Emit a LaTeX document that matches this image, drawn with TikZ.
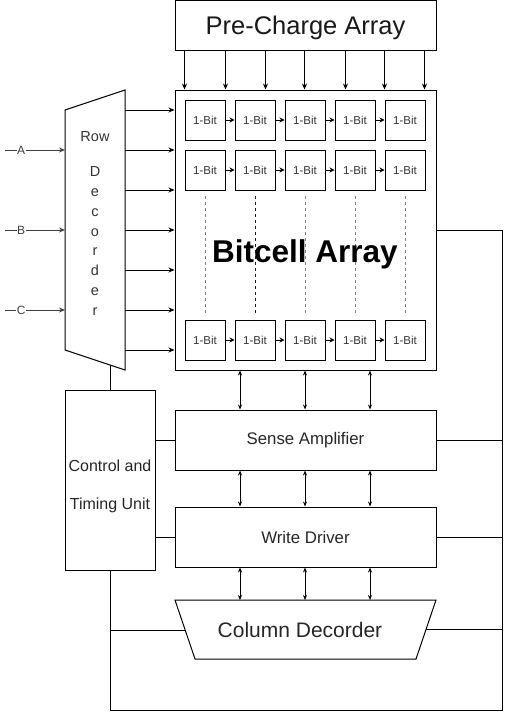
\documentclass[tikz,border=0pt]{standalone}
\usepackage{fontspec}
\setmainfont{Liberation Sans}
\usetikzlibrary{arrows.meta}

\tikzset{
  blk/.style={draw, line width=1pt, minimum width=261pt, minimum height=60pt, inner sep=0pt},
  cell/.style={draw, line width=1pt, minimum width=40pt, minimum height=40pt, inner sep=0pt, font=\fontsize{11.5}{13}\selectfont, text=black!80},
  inlbl/.style={fill=white, inner sep=0.5pt, font=\fontsize{12}{14}\selectfont, text=black!75},
}

\begin{document}
\begin{tikzpicture}[x=1pt, y=-1pt, line width=1pt, >={Stealth[length=6pt,width=5pt]}]
\useasboundingbox (0,0) rectangle (507,712);

% top and array
\node[blk, minimum height=50pt, text depth=0pt, font=\fontsize{25.5}{30}\selectfont, text=black!90] (pc) at (305.5,25.5) {Pre-Charge Array};
\node[blk, minimum height=280pt] (ba) at (305.5,230) {};

\node[cell] (c11) at (205,120) {1-Bit};
\node[cell] (c12) at (255,120) {1-Bit};
\node[cell] (c13) at (305,120) {1-Bit};
\node[cell] (c14) at (355,120) {1-Bit};
\node[cell] (c15) at (405,120) {1-Bit};
\node[cell] (c21) at (205,170) {1-Bit};
\node[cell] (c22) at (255,170) {1-Bit};
\node[cell] (c23) at (305,170) {1-Bit};
\node[cell] (c24) at (355,170) {1-Bit};
\node[cell] (c25) at (405,170) {1-Bit};
\node[cell] (c31) at (205,340) {1-Bit};
\node[cell] (c32) at (255,340) {1-Bit};
\node[cell] (c33) at (305,340) {1-Bit};
\node[cell] (c34) at (355,340) {1-Bit};
\node[cell] (c35) at (405,340) {1-Bit};

\begin{scope}[->, >={Stealth[length=5pt,width=5pt]}]
\draw (c11) -- (c12);
\draw (c12) -- (c13);
\draw (c13) -- (c14);
\draw (c14) -- (c15);
\draw (c21) -- (c22);
\draw (c22) -- (c23);
\draw (c23) -- (c24);
\draw (c24) -- (c25);
\draw (c31) -- (c32);
\draw (c32) -- (c33);
\draw (c33) -- (c34);
\draw (c34) -- (c35);
\end{scope}

\begin{scope}[dash pattern=on 3pt off 3pt, black!50]
\draw ([yshift=-5pt]c21.south) -- ([yshift=7pt]c31.north);
\draw[black!90] ([yshift=-5pt]c22.south) -- ([yshift=7pt]c32.north);
\draw ([yshift=-5pt]c23.south) -- ([yshift=7pt]c33.north);
\draw ([yshift=-5pt]c24.south) -- ([yshift=7pt]c34.north);
\draw ([yshift=-5pt]c25.south) -- ([yshift=7pt]c35.north);
\end{scope}

\node[text depth=0pt, font=\bfseries\fontsize{31.5}{36}\selectfont] (bt) at (305,251) {Bitcell Array};

\begin{scope}[->, line width=0.8pt]
\draw ([xshift=10pt]pc.south west) -- ([xshift=10pt]ba.north west);
\draw ([xshift=51pt]pc.south west) -- ([xshift=51pt]ba.north west);
\draw ([xshift=91pt]pc.south west) -- ([xshift=91pt]ba.north west);
\draw ([xshift=130pt]pc.south west) -- ([xshift=130pt]ba.north west);
\draw ([xshift=171pt]pc.south west) -- ([xshift=171pt]ba.north west);
\draw ([xshift=210pt]pc.south west) -- ([xshift=210pt]ba.north west);
\draw ([xshift=250pt]pc.south west) -- ([xshift=250pt]ba.north west);
\end{scope}

% row decoder
\coordinate (rd1) at (65,110);
\coordinate (rd2) at (125,90);
\coordinate (rd3) at (125,370);
\coordinate (rd4) at (65,350);
\draw (rd1) -- (rd2) -- (rd3) -- (rd4) -- cycle;
\node[font=\fontsize{14.5}{17}\selectfont, text=black!80] (rdt) at (95,137) {Row};
\node[align=center, inner sep=0pt, font=\fontsize{14.5}{19.9}\selectfont, text=black!80] (rdl) at (95,241) {D\\e\\c\\o\\r\\d\\e\\r};

\coordinate (o1) at (125,110);
\coordinate (o2) at (125,150);
\coordinate (o3) at (125,190);
\coordinate (o4) at (125,230);
\coordinate (o5) at (125,270);
\coordinate (o6) at (125,310);
\coordinate (o7) at (125,350);
\begin{scope}[->]
\draw (o1) -- (o1 -| ba.west);
\draw (o2) -- (o2 -| ba.west);
\draw (o3) -- (o3 -| ba.west);
\draw (o4) -- (o4 -| ba.west);
\draw (o5) -- (o5 -| ba.west);
\draw (o6) -- (o6 -| ba.west);
\draw (o7) -- (o7 -| ba.west);
\end{scope}

\coordinate (ia) at (5,150);
\coordinate (ib) at (5,230);
\coordinate (ic) at (5,310);
\begin{scope}[->, black!75]
\draw (ia) -- (ia -| rd1) node[inlbl, pos=0.27] (la) {A};
\draw (ib) -- (ib -| rd1) node[inlbl, pos=0.27] (lb) {B};
\draw (ic) -- (ic -| rd1) node[inlbl, pos=0.27] (lc) {C};
\end{scope}

% lower blocks
\node[draw, minimum width=90pt, minimum height=180pt] (ctl) at (110,480) {};
\node[align=center, font=\fontsize{16}{38}\selectfont, text=black!85] (ctlt) at (110,486) {Control and\\Timing Unit};
\node[blk, font=\fontsize{16.8}{20}\selectfont, text=black!85] (sa) at (305.5,440) {Sense Amplifier};
\node[blk, font=\fontsize{16.8}{20}\selectfont, text=black!85] (wd) at (305.5,537) {Write Driver};

\coordinate (cd1) at (175,600);
\coordinate (cd2) at (436,600);
\coordinate (cd3) at (416,659);
\coordinate (cd4) at (195,659);
\draw (cd1) -- (cd2) -- (cd3) -- (cd4) -- cycle;
\node[font=\fontsize{21}{25}\selectfont, text=black!85] (cdt) at (300,630) {Column Decorder};
\coordinate (cdl) at (185,630);
\coordinate (cdr) at (426,629);

\coordinate (rdb) at (110,365);
\draw (rdb) -- (rdb |- ctl.north); %rd-ctl

\begin{scope}[<->, >={Stealth[length=5pt,width=4pt]}]
\draw ([xshift=-65.5pt]ba.south) -- ([xshift=-65.5pt]sa.north);
\draw ([xshift=-0.5pt]ba.south) -- ([xshift=-0.5pt]sa.north);
\draw ([xshift=64.5pt]ba.south) -- ([xshift=64.5pt]sa.north);
\draw ([xshift=-65.5pt]sa.south) -- ([xshift=-65.5pt]wd.north);
\draw ([xshift=-0.5pt]sa.south) -- ([xshift=-0.5pt]wd.north);
\draw ([xshift=64.5pt]sa.south) -- ([xshift=64.5pt]wd.north);
\draw ([xshift=-65.5pt]wd.south) -- ([xshift=-65.5pt]cd1 -| ba.south);
\draw ([xshift=-0.5pt]wd.south) -- ([xshift=-0.5pt]cd1 -| ba.south);
\draw ([xshift=64.5pt]wd.south) -- ([xshift=64.5pt]cd1 -| ba.south);
\end{scope}

% control and bus lines
\coordinate (bl) at (110,710);
\coordinate (br) at (502,710);
\draw (ctl.east |- sa.west) -- (sa.west); %ctl-sa
\draw (ctl.east |- wd.west) -- (wd.west); %ctl-wd
\draw (ctl.south) -- (bl) -- (br) -- (br |- ba.east) -- (ba.east); %bus
\draw (bl |- cdl) -- (cdl); %ctl-cd
\draw (sa.east) -- (sa.east -| br);
\draw (wd.east) -- (wd.east -| br);
\draw (cdr) -- (cdr -| br);

\end{tikzpicture}
\end{document}
